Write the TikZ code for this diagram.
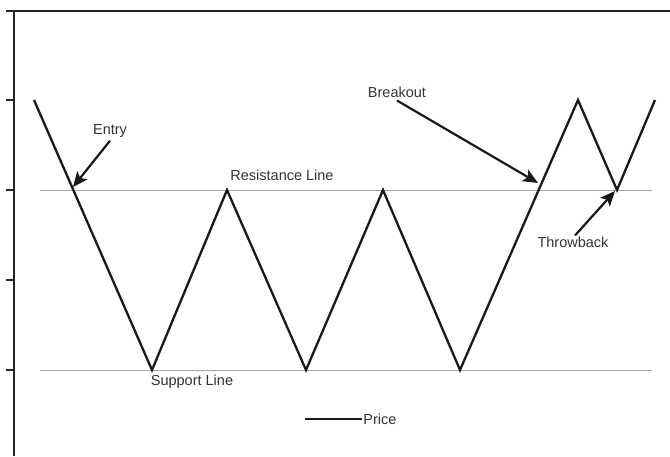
\documentclass[tikz,border=0pt]{standalone}
\usepackage{fontspec}
\setmainfont{Liberation Sans}
\usetikzlibrary{arrows.meta}

\begin{document}
\begin{tikzpicture}[
		x=1pt, y=-1pt,
		font=\fontsize{14.5}{17}\selectfont,
		axis/.style={line width=1.6pt, draw=black!85},
		level/.style={line width=1pt, draw=black!35},
		price/.style={line width=2.3pt, draw=black!90, line join=miter},
		label/.style={text=black!80, inner sep=1pt},
		arrow/.style={line width=2.2pt, draw=black!90, -{Stealth[length=15pt, width=13pt, inset=3.5pt]}}
		]
		\useasboundingbox (0,0) rectangle (670,456);
		
		% frame and ticks
		\draw [axis] (6,11) -- (670,11);
		\draw [axis] (14,11) -- (14,456);
		\foreach \ty in {100,190,280,370}
			\draw [axis] (6,\ty) -- (14,\ty);
		
		% support and resistance
		\draw [level] (40,190) -- (652,190);
		\draw [level] (40,370) -- (652,370);
		
		% price path
		\coordinate (p0) at (34,100);
		\coordinate (p1) at (152,370);
		\coordinate (p2) at (227,190);
		\coordinate (p3) at (306,370);
		\coordinate (p4) at (383,190);
		\coordinate (p5) at (460,370);
		\coordinate (p6) at (578,100);
		\coordinate (p7) at (617,190);
		\coordinate (p8) at (655,100);
		\draw [price] (p0) -- (p1) -- (p2) -- (p3) -- (p4) -- (p5) -- (p6) -- (p7) -- (p8);
		
		\coordinate (entrypt) at (73,187);
		\coordinate (breakpt) at (538,183);
		\coordinate (throwpt) at (615,191);
		
		% labels
		\node (entry) at (110,131) [label] {Entry};
		\node (breakout) at (397,92) [label] {Breakout};
		\node (throwback) at (573,242) [label] {Throwback};
		\node (resist) at (282,175) [label] {Resistance Line};
		\node (support) at (192,382) [label] {Support Line};
		
		\draw [arrow] (entry.south) ++(0,2) -- (entrypt);
		\draw [arrow] (breakout.south) ++(0,2) -- (breakpt);
		\draw [arrow] (throwback.north) ++(2,0) -- (throwpt);
		
		% legend
		\coordinate (legA) at (305,419);
		\node (legend) at (380,419) [label] {Price};
		\draw [price] (legA) -- (legend.west);
	\end{tikzpicture}
\end{document}
